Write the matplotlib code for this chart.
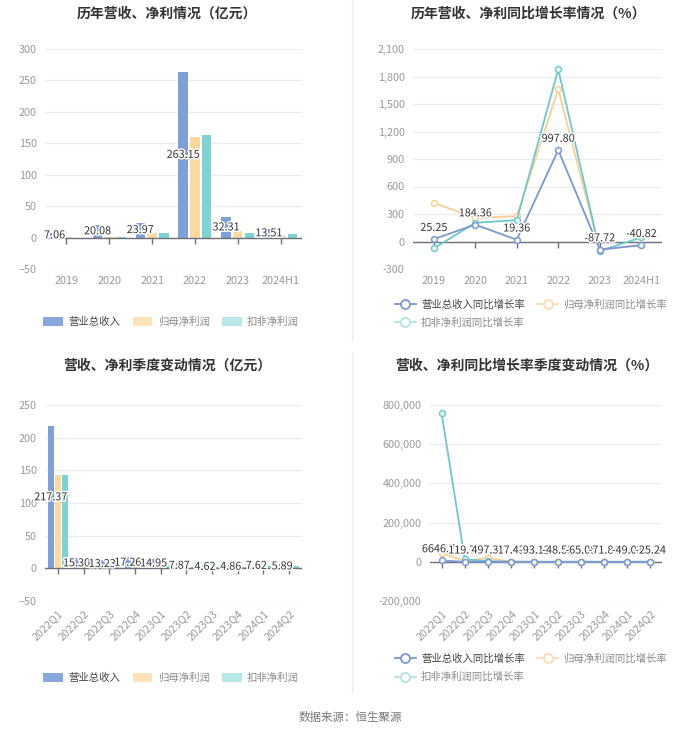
import matplotlib
matplotlib.use('Agg')
import matplotlib.pyplot as plt
import numpy as np
from matplotlib.lines import Line2D
from matplotlib.patches import Patch
import matplotlib.patheffects as pe
from matplotlib.ticker import FuncFormatter, MultipleLocator

plt.rcParams['font.family'] = ['Noto Sans CJK SC', 'DejaVu Sans']

# ---------------- data ----------------
years = ['2019', '2020', '2021', '2022', '2023', '2024H1']
rev_annual = [7.06, 20.08, 23.97, 263.15, 32.31, 13.51]
np_annual = [0.7, 1.6, 7.5, 160.0, 10.5, 4.0]
dnp_annual = [-1.5, 1.0, 7.0, 163.0, 8.0, 6.0]

rev_growth_annual = [25.25, 184.36, 19.36, 997.80, -87.72, -40.82]
np_growth_annual = [422, 258, 277, 1663, -95, -33]
dnp_growth_annual = [-76, 204, 233, 1878, -102, 44]

quarters = ['2022Q1', '2022Q2', '2022Q3', '2022Q4', '2023Q1', '2023Q2',
            '2023Q3', '2023Q4', '2024Q1', '2024Q2']
rev_q = [217.37, 15.30, 13.23, 17.26, 14.95, 7.87, 4.62, 4.86, 7.62, 5.89]
np_q = [143.0, 5.0, 6.0, 6.0, 4.0, 2.0, 1.0, 3.0, 2.0, 2.0]
dnp_q = [143.5, 6.0, 7.0, 6.5, 3.0, 1.5, 1.5, 2.5, 3.0, 3.5]

rev_growth_q = [6646.71, 119.74, 497.31, 17.43, -93.12, -48.53, -65.05, -71.84, -49.03, -25.24]
np_growth_q = [44000, 5000, 19000, 300, -97, -60, -83, -50, -50, 0]
dnp_growth_q = [757000, 13000, 3000, 500, -98, -75, -80, -60, 0, 130]

bar_names = ['营业总收入', '归母净利润', '扣非净利润']
line_names = ['营业总收入同比增长率', '归母净利润同比增长率', '扣非净利润同比增长率']

# ---------------- style ----------------
C_BLUE = '#7f9fd9'
C_YEL = '#fdd89f'
C_TEAL = '#7dd3d3'
L_BLUE = '#7b98d2'
L_YEL = '#f9cf92'
L_TEAL = '#6cc9cc'
LEG_BAR = ['#88a7dc', '#fde3b8', '#b7e7e7']
LEG_LINE = ['#7b98d2', '#fddcb2', '#b0e3e6']
TICK_C = '#9a9a9a'
AXIS_C = '#6e7079'
GRID_C = '#ececec'
TXT_C = '#333333'

W, H = 700, 734
fig = plt.figure(figsize=(W / 100, H / 100), dpi=100)
fig.patch.set_facecolor('white')


def fx(px):
    return px / W


def fy(py):
    return 1 - py / H


def make_ax(left, top, right, bottom):
    return fig.add_axes([fx(left), fy(bottom), fx(right - left), (bottom - top) / H])


def style_ax(ax, ylim, step, fmt=None):
    ax.set_ylim(*ylim)
    ax.yaxis.set_major_locator(MultipleLocator(step))
    if fmt:
        ax.yaxis.set_major_formatter(FuncFormatter(fmt))
    for s in ax.spines.values():
        s.set_visible(False)
    ax.yaxis.grid(True, color=GRID_C, lw=0.9)
    ax.set_axisbelow(True)
    ax.tick_params(axis='y', length=0, labelsize=7.8, labelcolor=TICK_C, pad=6)
    ax.tick_params(axis='x', length=0, labelsize=7.8, labelcolor=TICK_C, pad=5)
    ax.axhline(0, color=AXIS_C, lw=1.0, zorder=3)


def zero_ticks(ax, n):
    x = np.arange(n)
    ax.plot(x, np.zeros(n), ls='none', marker=3, ms=4, mew=1.0,
            color=AXIS_C, clip_on=False, zorder=3)


stroke = [pe.withStroke(linewidth=2.2, foreground='white')]


def bar_panel(ax, cats, rev, npv, dnp, ylim, step, rotate=False):
    n = len(cats)
    x = np.arange(n)
    w, off = 0.22, 0.275
    ax.bar(x - off, rev, w, color=C_BLUE, zorder=2)
    ax.bar(x, npv, w, color=C_YEL, zorder=2)
    ax.bar(x + off, dnp, w, color=C_TEAL, zorder=2)
    ax.set_xlim(-0.5, n - 0.5)
    style_ax(ax, ylim, step)
    zero_ticks(ax, n)
    ax.set_xticks(x)
    if rotate:
        ax.set_xticklabels(cats, rotation=45, ha='right', rotation_mode='anchor')
    else:
        ax.set_xticklabels(cats)
    for i, v in enumerate(rev):
        ax.text(x[i] - off, v / 2, f'{v:.2f}', ha='center', va='center',
                fontsize=7.8, color=TXT_C, path_effects=stroke, zorder=5)


def line_panel(ax, cats, rev, npv, dnp, ylim, step, rotate=False):
    n = len(cats)
    x = np.arange(n)
    kw = dict(lw=1.3, marker='o', ms=4.2, mfc='white', mew=1.1, zorder=4, clip_on=False)
    ax.plot(x, npv, color=L_YEL, **kw)
    ax.plot(x, dnp, color=L_TEAL, **kw)
    ax.plot(x, rev, color=L_BLUE, **kw)
    ax.set_xlim(-0.5, n - 0.5)
    style_ax(ax, ylim, step, fmt=lambda v, p: f'{v:,.0f}')
    zero_ticks(ax, n)
    ax.set_xticks(x)
    if rotate:
        ax.set_xticklabels(cats, rotation=45, ha='right', rotation_mode='anchor')
    else:
        ax.set_xticklabels(cats)
    for i, v in enumerate(rev):
        ax.annotate(f'{v:.2f}', (x[i], v), xytext=(0, 4.5), textcoords='offset points',
                    ha='center', va='bottom', fontsize=7.8, color=TXT_C,
                    path_effects=stroke, zorder=6)


# ---------------- panels ----------------
ax1 = make_ax(45, 49, 302, 269)
bar_panel(ax1, years, rev_annual, np_annual, dnp_annual, (-50, 300), 50)

ax2 = make_ax(413, 49, 662, 269)
line_panel(ax2, years, rev_growth_annual, np_growth_annual, dnp_growth_annual, (-300, 2100), 300)

ax3 = make_ax(45, 405, 302, 601)
bar_panel(ax3, quarters, rev_q, np_q, dnp_q, (-50, 250), 50, rotate=True)

ax4 = make_ax(430, 405, 662, 601)
line_panel(ax4, quarters, rev_growth_q, np_growth_q, dnp_growth_q, (-200000, 800000), 200000, rotate=True)

# ---------------- titles ----------------
title_kw = dict(ha='center', va='center', fontsize=10, fontweight='bold', color=TXT_C)
fig.text(fx(167), fy(14), '历年营收、净利情况（亿元）', **title_kw)
fig.text(fx(528), fy(14), '历年营收、净利同比增长率情况（%）', **title_kw)
fig.text(fx(167), fy(366), '营收、净利季度变动情况（亿元）', **title_kw)
fig.text(fx(527), fy(366), '营收、净利同比增长率季度变动情况（%）', **title_kw)


# ---------------- legends ----------------
def bar_legend(cy):
    handles = [Patch(facecolor=c, edgecolor='none') for c in LEG_BAR]
    leg = fig.legend(handles, bar_names, loc='center', bbox_to_anchor=(fx(171), fy(cy)),
                     ncol=3, frameon=False, fontsize=7.5, handlelength=1.9,
                     handleheight=0.95, handletextpad=0.5, columnspacing=1.2)
    for i, t in enumerate(leg.get_texts()):
        t.set_color('#444444' if i == 0 else '#8a8a8a')


def line_legend(cy):
    handles = [Line2D([0], [0], color=c, lw=1.3, marker='o', ms=6.5, mfc='white', mew=1.3)
               for c in LEG_LINE]
    order = [0, 2, 1]
    leg = fig.legend([handles[i] for i in order], [line_names[i] for i in order],
                     loc='center', bbox_to_anchor=(fx(531), fy(cy)), ncol=2,
                     frameon=False, fontsize=7.5, handlelength=2.0, handletextpad=0.5,
                     columnspacing=1.2, labelspacing=0.75)
    for t in leg.get_texts():
        t.set_color('#444444' if t.get_text() == line_names[0] else '#8a8a8a')


bar_legend(322)
line_legend(313.5)
bar_legend(678)
line_legend(668)

# ---------------- separators & source ----------------
fig.add_artist(Line2D([fx(352), fx(352)], [fy(0), fy(340)], color='#eeeeee', lw=1,
                      transform=fig.transFigure))
fig.add_artist(Line2D([fx(352), fx(352)], [fy(352), fy(692)], color='#eeeeee', lw=1,
                      transform=fig.transFigure))
fig.text(0.5, fy(717), '数据来源：恒生聚源', ha='center', va='center', fontsize=8.3, color='#777777')

fig.savefig('out.png', dpi=100, facecolor='white')
